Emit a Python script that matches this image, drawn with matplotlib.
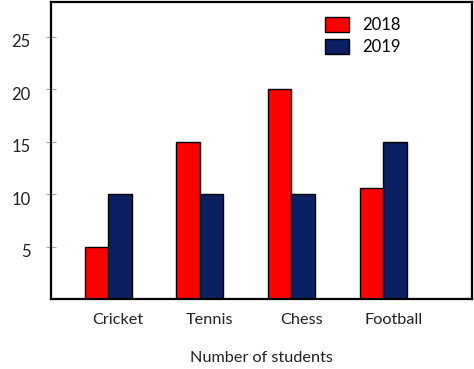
import numpy as np
import matplotlib.pyplot as plt
import matplotlib.transforms as mtransforms

plt.rcParams["font.family"] = ["Lato", "DejaVu Sans"]

sports = ["Cricket", "Tennis", "Chess", "Football"]
students_2018 = [5, 15, 20, 10.6]
students_2019 = [10, 10, 10, 15]
y_ticks = [5, 10, 15, 20, 25]

red = "#ff0000"
navy = "#0b2063"

fig = plt.figure(figsize=(4.74, 3.69), dpi=100)
ax = fig.add_axes([51 / 474, 1 - 299 / 369, 421 / 474, 297 / 369])

x = np.arange(len(sports))
w = 0.256
ax.bar(x - w / 2, students_2018, w, color=red, edgecolor="black", linewidth=1, label="2018")
ax.bar(x + w / 2, students_2019, w, color=navy, edgecolor="black", linewidth=1, label="2019")

ax.set_xlim(-0.622, 3.969)
ax.set_ylim(0, 28.3)

ax.set_yticks(y_ticks)
ax.tick_params(axis="y", direction="inout", length=7, width=0.8, color="#8fa8c8",
               labelsize=12, labelcolor="#222222", pad=11)
# labels sit a little below their ticks in the original
shift = mtransforms.ScaledTranslation(0, -3 / 72, fig.dpi_scale_trans)
for lab in ax.get_yticklabels():
    lab.set_transform(lab.get_transform() + shift)
ax.set_xticks(x + 0.11)
ax.set_xticklabels(sports)
ax.tick_params(axis="x", length=0, labelsize=11.7, labelcolor="#222222", pad=10)
ax.set_xlabel("Number of students", fontsize=11.7, color="#222222", labelpad=17)

for s in ax.spines.values():
    s.set_linewidth(1.6)
    s.set_color("black")

ax.legend(loc="upper left", bbox_to_anchor=(0.652, 0.95), frameon=False,
          fontsize=12, borderpad=0, handlelength=1.4, handleheight=1.0,
          handletextpad=0.8, labelspacing=0.35, borderaxespad=0)

fig.savefig("out.png", dpi=100)
plt.close(fig)
